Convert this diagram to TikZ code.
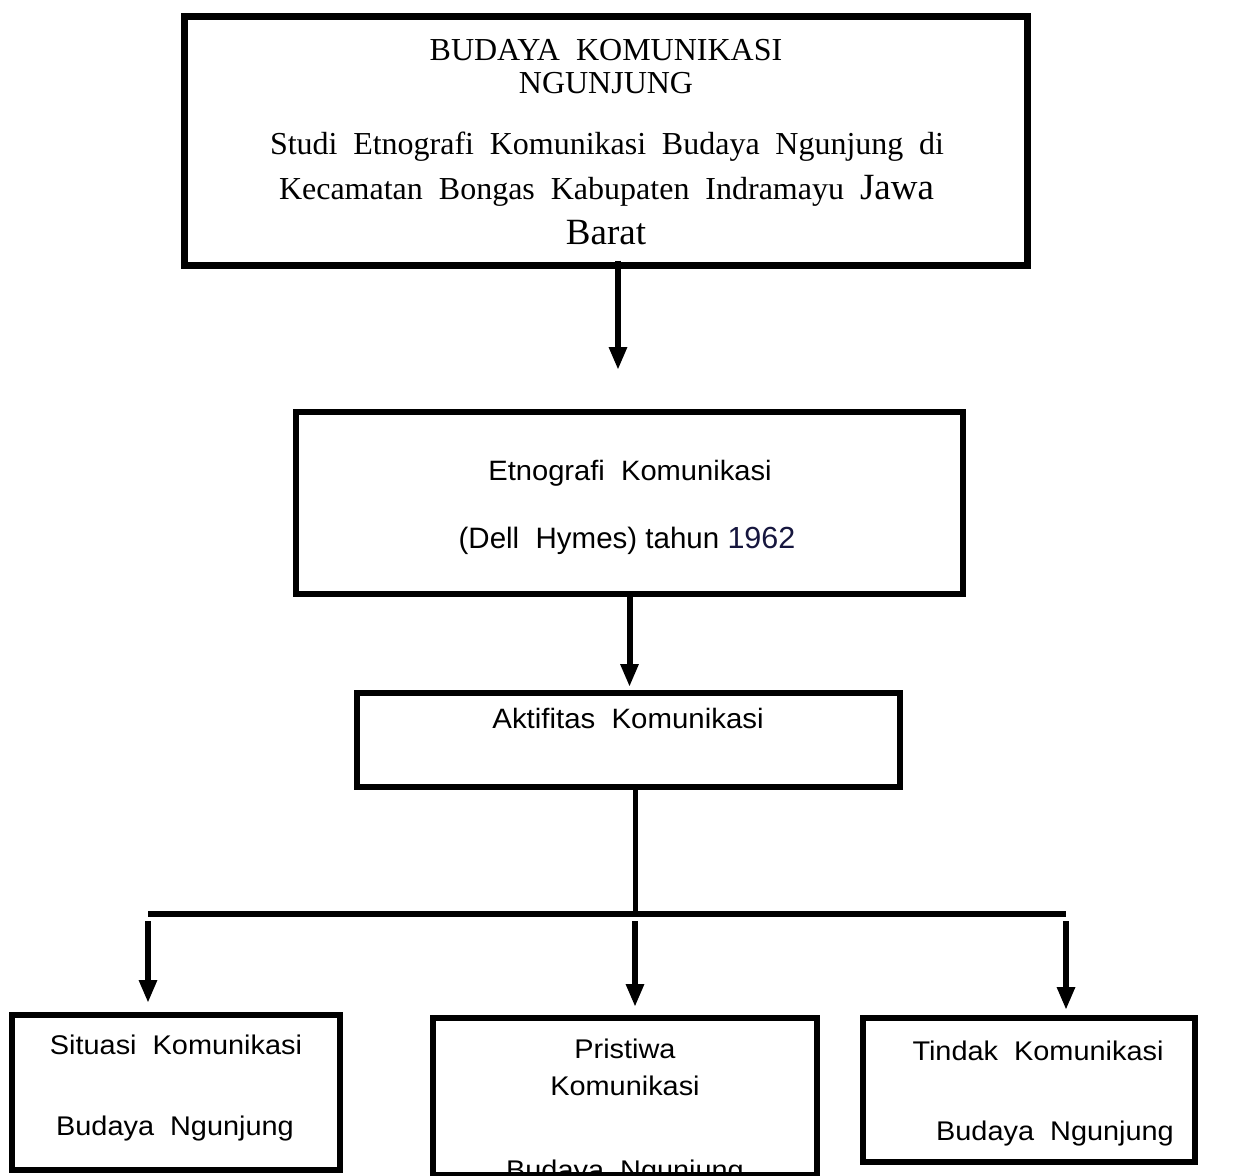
\documentclass[tikz,border=0pt]{standalone}
\usepackage{fontspec}
\setmainfont{Liberation Serif}
\setsansfont{Liberation Sans}
\usetikzlibrary{arrows.meta,calc}
\definecolor{navy}{RGB}{22,22,62}
\tikzset{
  box/.style={draw=black, line width=6pt, rectangle, inner sep=0pt},
  serif/.style={inner sep=0pt, anchor=base, font=\fontsize{32}{38}\selectfont},
  sans/.style={inner sep=0pt, anchor=base, font=\sffamily\fontsize{27}{32}\selectfont},
  sansmid/.style={inner sep=0pt, anchor=base, font=\sffamily\fontsize{28}{33}\selectfont},
  arr/.style={line width=6pt, -{Triangle[length=23pt,width=17pt]}},
  bar/.style={line width=6pt},
}
\newcommand{\wx}[1]{\scalebox{1.07}[1]{#1}}
\newcommand{\wxx}[1]{\scalebox{1.04}[1]{#1}}
\begin{document}
\begin{tikzpicture}[x=1pt,y=-1pt]
\useasboundingbox (0,0) rectangle (1233,1175);
\clip (0,0) rectangle (1233,1175);

% top box
\node[box, line width=7pt, minimum width=843pt, minimum height=249pt] (top) at (605.5,140.5) {};
\node[serif] (t1) at (606,60) {BUDAYA\ \ KOMUNIKASI};
\node[serif] (t2) at (606,93) {NGUNJUNG};
\node[serif] (t3) at (607,154) {\makebox[674pt][s]{Studi Etnografi Komunikasi Budaya Ngunjung di}};
\node[serif] (t4) at (606.5,199) {\makebox[655pt][s]{Kecamatan Bongas Kabupaten Indramayu {\fontsize{37}{40}\selectfont Jawa}}};
\node[serif, font=\fontsize{37}{40}\selectfont] (t5) at (606,244) {Barat};

% box 2
\node[box, minimum width=667pt, minimum height=182pt] (b2) at (629.5,503) {};
\node[sansmid] (e1) at (630,480) {\wxx{Etnografi\ \ Komunikasi}};
\node[sans, font=\sffamily\fontsize{29.5}{34}\selectfont] (e2) at (627,548) {(Dell\ \ Hymes) tahun {\color{navy}\fontsize{30.5}{34}\selectfont 1962}};

% box 3
\node[box, minimum width=543pt, minimum height=94pt] (b3) at (628.5,740) {};
\node[sansmid] (a1t) at (628,728) {\scalebox{1.05}[1]{Aktifitas\ \ Komunikasi}};

% bottom boxes
\node[box, minimum width=328pt, minimum height=155pt] (bl) at (176,1092.5) {};
\node[sans] (l1) at (176,1054) {\wx{Situasi\ \ Komunikasi}};
\node[sans] (l2) at (175,1135) {\wx{Budaya\ \ Ngunjung}};

\node[box, minimum width=384pt, minimum height=157pt] (bm) at (625,1096.5) {};
\node[sans] (m1) at (625,1058) {\wx{Pristiwa}};
\node[sans] (m2) at (625,1095) {\wx{Komunikasi}};
\node[sans] (m3) at (625,1179) {\wx{Budaya\ \ Ngunjung}};

\node[box, minimum width=332pt, minimum height=144pt] (br) at (1029,1090) {};
\node[sans] (r1) at (1038,1060) {\wx{Tindak\ \ Komunikasi}};
\node[sans] (r2) at (1055,1140) {\wx{Budaya\ \ Ngunjung}};

% connectors
\coordinate (a1) at (618,370);
\draw[arr] ($(top.south -| a1)+(0,-8)$) -- (a1);

\draw[arr] (b2.south) -- ($(b2.south |- b3.north)+(0,-3)$);

\coordinate (j) at (635,914);
\coordinate (barL) at (148,914);
\coordinate (barR) at (1066,914);
\draw[line width=5pt] (b3.south -| j) -- (j);
\draw[bar] (barL) -- (barR);

\coordinate (s1) at (148,921);
\coordinate (s2) at (635,921);
\coordinate (s3) at (1066,921);
\draw[arr] (s1) -- ($(s1 |- bl.north)+(0,-9)$);
\draw[arr] (s2) -- ($(s2 |- bm.north)+(0,-8)$);
\draw[arr] (s3) -- ($(s3 |- br.north)+(0,-5)$);
\end{tikzpicture}
\end{document}
